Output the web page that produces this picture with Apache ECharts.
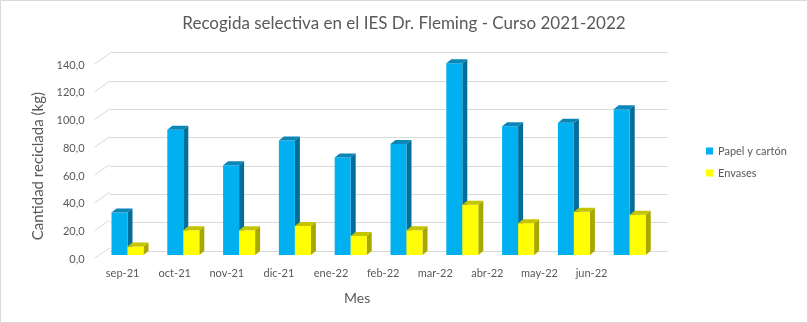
<!DOCTYPE html>
<html>
<head>
<meta charset="utf-8">
<script src="https://cdn.jsdelivr.net/npm/echarts@6/dist/echarts.min.js"></script>
<style>html,body{margin:0;padding:0;background:#fff}#c{width:808px;height:323px}</style>
</head>
<body>
<div id="c"></div>
<script>
var categories = ['sep-21','oct-21','nov-21','dic-21','ene-22','feb-22','mar-22','abr-22','may-22','jun-22'];
var papel = [30, 88.5, 63.5, 81, 69, 78.5, 135.5, 91, 93.5, 103];
var envases = [6, 17.5, 17.5, 20.5, 13.5, 17.5, 35.5, 22.5, 30.5, 28.5];
var yTicks = [0, 20, 40, 60, 80, 100, 120, 140];
var seriesNames = ['Papel y cartón', 'Envases'];

var FONT = 'Lato';
var TXT = '#595959';
var faces = [
  {front: '#00B0F0', side: '#006E98', top: '#0A86B8'},
  {front: '#FFFF00', side: '#A8A800', top: '#C4C400'}
];
var BW = 16, DX = 5, DY = 4;

function barRender(si) {
  return function (params, api) {
    var idx = api.value(0), val = api.value(1);
    var top = api.coord([idx, val]);
    var bot = api.coord([idx, 0]);
    var x0 = si === 0 ? top[0] - BW : top[0];
    var yT = top[1], yB = bot[1];
    var f = faces[si];
    return {
      type: 'group',
      children: [
        {type: 'polygon', shape: {points: [[x0 + BW, yT], [x0 + BW + DX, yT - DY], [x0 + BW + DX, yB - DY], [x0 + BW, yB]]}, style: {fill: f.side}},
        {type: 'rect', shape: {x: x0, y: yT, width: BW, height: yB - yT}, style: {fill: f.front}},
        {type: 'polygon', shape: {points: [[x0, yT], [x0 + DX, yT - DY], [x0 + BW + DX, yT - DY], [x0 + BW, yT]]}, style: {fill: f.top}}
      ]
    };
  };
}

function diagRender(params, api) {
  var v = api.value(0);
  var p = api.coord([0, v]);
  var x = params.coordSys.x - 2;
  return {
    type: 'line',
    shape: {x1: x, y1: p[1] - 1, x2: x + 15, y2: p[1] - 11.5},
    style: {stroke: '#D9D9D9', lineWidth: 1}
  };
}

var chart = echarts.init(document.getElementById('c'), null, {renderer: 'canvas'});
chart.setOption({
  animation: false,
  backgroundColor: '#fff',
  textStyle: {fontFamily: FONT},
  title: {
    text: 'Recogida selectiva en el IES Dr. Fleming - Curso 2021-2022',
    left: 'center', top: 10,
    textStyle: {fontFamily: FONT, fontSize: 17, fontWeight: 'normal', color: TXT}
  },
  legend: {
    orient: 'vertical', left: 701, top: 139,
    itemWidth: 7, itemHeight: 7, itemGap: 8,
    icon: 'rect',
    data: seriesNames,
    textStyle: {fontFamily: FONT, fontSize: 11, color: TXT, lineHeight: 14}
  },
  graphic: [{
    type: 'rect', silent: true,
    shape: {x: 0.5, y: 0.5, width: 807, height: 322},
    style: {fill: 'none', stroke: '#D9D9D9', lineWidth: 1}
  }],
  grid: [
    {left: 99.6, top: 57, width: 558, height: 198},
    {left: 96.6, top: 65, width: 521, height: 194.3},
    {left: 110, top: 52.7, width: 558, height: 198.3}
  ],
  xAxis: [
    {gridIndex: 0, type: 'category', data: categories, show: false},
    {gridIndex: 1, type: 'category', data: categories,
      axisLine: {show: false}, axisTick: {show: false},
      axisLabel: {fontFamily: FONT, fontSize: 11, color: TXT, margin: 9},
      name: 'Mes', nameLocation: 'middle', nameGap: 32,
      nameTextStyle: {fontFamily: FONT, fontSize: 14, color: TXT}},
    {gridIndex: 2, type: 'category', data: categories, show: false}
  ],
  yAxis: [
    {gridIndex: 0, type: 'value', min: 0, max: 140, interval: 20, show: false},
    {gridIndex: 1, type: 'value', min: 0, max: 140, interval: 20,
      axisLine: {show: false}, axisTick: {show: false}, splitLine: {show: false},
      axisLabel: {fontFamily: FONT, fontSize: 11, color: TXT, margin: 12,
        formatter: function (v) { return v.toFixed(1).replace('.', ','); }},
      name: 'Cantidad reciclada (kg)', nameLocation: 'middle', nameGap: 48,
      nameTextStyle: {fontFamily: FONT, fontSize: 15, color: TXT, padding: [0, 8, 0, 0]}},
    {gridIndex: 2, type: 'value', min: 0, max: 140, interval: 20,
      axisLine: {show: false}, axisTick: {show: false}, axisLabel: {show: false},
      splitLine: {show: true, lineStyle: {color: '#D9D9D9', width: 1}}}
  ],
  series: [
    {type: 'custom', name: 'diag', xAxisIndex: 1, yAxisIndex: 1, silent: true,
      renderItem: diagRender, data: yTicks.map(function (v) { return [v]; }), encode: {y: 0}, z: 1},
    {type: 'custom', name: seriesNames[0], xAxisIndex: 0, yAxisIndex: 0,
      itemStyle: {color: faces[0].front}, renderItem: barRender(0),
      data: papel.map(function (v, i) { return [i, v]; }), encode: {x: 0, y: 1}, z: 3},
    {type: 'custom', name: seriesNames[1], xAxisIndex: 0, yAxisIndex: 0,
      itemStyle: {color: faces[1].front}, renderItem: barRender(1),
      data: envases.map(function (v, i) { return [i, v]; }), encode: {x: 0, y: 1}, z: 4}
  ]
});
</script>
</body>
</html>
